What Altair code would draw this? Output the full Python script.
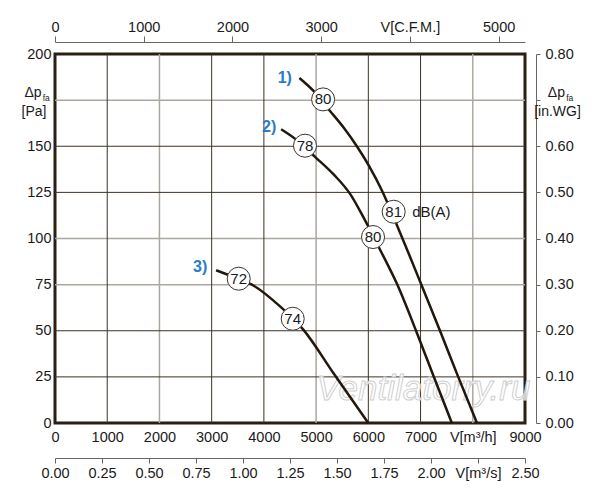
import pandas as pd
import altair as alt

## Curve data: V in m3/h, static pressure in Pa
c1_v = [4680, 4950, 5270, 5530, 5780, 6010, 6260, 6550, 6800, 7010, 7380, 7700, 8080]
c1_p = [187, 180, 169, 160, 150, 139.5, 126, 107, 90, 75.3, 49.5, 26.5, 0]
c2_v = [4330, 4600, 4990, 5340, 5660, 5910, 6220, 6550, 6930, 7250, 7600]
c2_p = [159.2, 154, 144, 134.6, 123.8, 111.3, 94.2, 75.3, 48.8, 25.3, 0]
c3_v = [3085, 3520, 3770, 4310, 4755, 5330, 6000]
c3_p = [82.8, 78, 75, 63.2, 50.6, 27.1, 0]

# noise level bubbles sitting on the curves, dB(A)
db_v = [5134, 6485, 4787, 6090, 3518, 4552]
db_p = [175.4, 114.5, 150.3, 100.8, 78.2, 56.5]
db_txt = ["80", "81", "78", "80", "72", "74"]

# curve numbers
tag_v = [4400, 4100, 2780]
tag_p = [187, 160.5, 84.5]
tag_txt = ["1)", "2)", "3)"]

# axis ticks in their own units
m3h_ticks = [0, 1000, 2000, 3000, 4000, 5000, 6000, 7000, 8000, 9000]
cfm_ticks = [0, 1000, 2000, 3000, 4000, 5000]
m3s_ticks = [0, 0.25, 0.5, 0.75, 1.0, 1.25, 1.5, 1.75, 2.0, 2.25, 2.5]
pa_ticks = [0, 25, 50, 75, 100, 125, 150, 175, 200]
inwg_ticks = [0, 0.1, 0.2, 0.3, 0.4, 0.5, 0.6, 0.7, 0.8]

# grid lines (the original mixes dark and light ones)
vgrid_dark = [1000, 3000, 4000, 6000, 7000]
vgrid_light = [2000, 5000, 8000]
hgrid_dark = [25, 50, 125, 150]
hgrid_light = [75, 100, 175]

M3H_PER_CFM = 1.699
M3H_PER_M3S = 3600
PA_PER_INWG = 250  # the chart lines 0.80 in.WG up with 200 Pa

FONT = "Liberation Sans"
INK = "#1a1a1a"
AXIS_GREY = "#6e665e"

xs = alt.Scale(domain=[0, 9000], nice=False, zero=False)
ys = alt.Scale(domain=[0, 200], nice=False, zero=False)


def xq(field="V", axis=None):
    return alt.X(f"{field}:Q", scale=xs, axis=axis)


def yq(field="P", axis=None):
    return alt.Y(f"{field}:Q", scale=ys, axis=axis)


## Grid
grid_v_light = alt.Chart(pd.DataFrame({"V": vgrid_light})).mark_rule(color="#aca79f", strokeWidth=1.5).encode(x=xq())
grid_h_light = alt.Chart(pd.DataFrame({"P": hgrid_light})).mark_rule(color="#aca79f", strokeWidth=1.5).encode(y=yq())
grid_v_dark = alt.Chart(pd.DataFrame({"V": vgrid_dark})).mark_rule(color="#3d3226", strokeWidth=1).encode(x=xq())
grid_h_dark = alt.Chart(pd.DataFrame({"P": hgrid_dark})).mark_rule(color="#3d3226", strokeWidth=1).encode(y=yq())

## Watermark
watermark = alt.Chart(pd.DataFrame({"V": [7056], "P": [18.6], "t": ["Ventilatorry.ru"]})).mark_text(
    font=FONT, fontSize=35, fontStyle="italic", fill="white", fillOpacity=0.8,
    stroke="#cfcfcf", strokeWidth=1, align="center", baseline="middle"
).encode(x=xq(), y=yq(), text="t:N")

## Curves
curves_df = pd.concat([
    pd.DataFrame({"V": c1_v, "P": c1_p, "curve": "1"}),
    pd.DataFrame({"V": c2_v, "P": c2_p, "curve": "2"}),
    pd.DataFrame({"V": c3_v, "P": c3_p, "curve": "3"}),
])
curves = alt.Chart(curves_df).mark_line(color="#22170c", strokeWidth=2.5, interpolate="monotone").encode(
    x=xq(), y=yq(), detail="curve:N"
)

## dB bubbles
db_df = pd.DataFrame({"V": db_v, "P": db_p, "t": db_txt})
bubbles = alt.Chart(db_df).mark_circle(size=530, color="white", opacity=1, stroke="#3a332c", strokeWidth=1).encode(
    x=xq(), y=yq()
)
bubble_txt = alt.Chart(db_df).mark_text(font=FONT, fontSize=15, color=INK, align="center", baseline="middle").encode(
    x=xq(), y=yq(), text="t:N"
)
dba = alt.Chart(pd.DataFrame({"V": [6840], "P": [114.5], "t": ["dB(A)"]})).mark_text(
    font=FONT, fontSize=15, color=INK, align="left", baseline="middle"
).encode(x=xq(), y=yq(), text="t:N")

tags = alt.Chart(pd.DataFrame({"V": tag_v, "P": tag_p, "t": tag_txt})).mark_text(
    font=FONT, fontSize=16, fontWeight="bold", color="#2a7cc6", align="center", baseline="middle"
).encode(x=xq(), y=yq(), text="t:N")

## Axis titles with subscript, next to the 175 Pa / 0.70 in.WG rows
dp_lbl = pd.DataFrame({"V": [-258, 9766], "P": [179, 179], "t": ["\u0394p", "\u0394p"]})
sub_lbl = pd.DataFrame({"V": [-235, 9790], "P": [176.2, 176.2], "t": ["fa", "fa"]})
unit_lbl = pd.DataFrame({"V": [-402, 9622], "P": [168.7, 168.7], "t": ["[Pa]", "[in.WG]"]})
titles_dp = alt.Chart(dp_lbl).mark_text(font=FONT, fontSize=14, color=INK, align="right", baseline="middle").encode(
    x=xq(), y=yq(), text="t:N"
)
titles_sub = alt.Chart(sub_lbl).mark_text(font=FONT, fontSize=8.5, color=INK, align="left", baseline="middle").encode(
    x=xq(), y=yq(), text="t:N"
)
titles_unit = alt.Chart(unit_lbl).mark_text(font=FONT, fontSize=14, color=INK, align="center", baseline="middle").encode(
    x=xq(), y=yq(), text="t:N"
)

## Axes (each carried by an invisible layer on the shared scales)
ax_bottom = alt.Chart(pd.DataFrame({"V": m3h_ticks})).mark_point(opacity=0).encode(
    x=xq(axis=alt.Axis(orient="bottom", values=m3h_ticks, title=None, domain=False, ticks=False, tickSize=0,
                       labelPadding=7, labelFlush=False, labelOverlap=False,
                       labelExpr="datum.value == 8000 ? 'V[m\u00b3/h]' : format(datum.value, 'd')"))
)
cfm_vals = [c * M3H_PER_CFM for c in cfm_ticks]
ax_top = alt.Chart(pd.DataFrame({"V": cfm_vals})).mark_point(opacity=0).encode(
    x=xq(axis=alt.Axis(orient="top", values=cfm_vals, title=None, offset=12, tickSize=6,
                       labelPadding=2, labelFlush=False, labelOverlap=False,
                       labelExpr="round(datum.value / 1.699) == 4000 ? 'V[C.F.M.]' : format(round(datum.value / 1.699), 'd')"))
)
m3s_vals = [s * M3H_PER_M3S for s in m3s_ticks]
ax_m3s = alt.Chart(pd.DataFrame({"V": m3s_vals})).mark_point(opacity=0).encode(
    x=xq(axis=alt.Axis(orient="bottom", values=m3s_vals, title=None, offset=35, tickSize=5,
                       labelPadding=3, labelFlush=False, labelOverlap=False,
                       labelExpr="round(datum.value) == 8100 ? 'V[m\u00b3/s]' : format(datum.value / 3600, '.2f')"))
)
ax_left = alt.Chart(pd.DataFrame({"P": pa_ticks})).mark_point(opacity=0).encode(
    y=yq(axis=alt.Axis(orient="left", values=pa_ticks, title=None, domain=False, ticks=False, tickSize=0,
                       labelPadding=4, labelFlush=False, labelOverlap=False,
                       labelExpr="datum.value == 175 ? '' : datum.label"))
)
inwg_vals = [w * PA_PER_INWG for w in inwg_ticks]
ax_right = alt.Chart(pd.DataFrame({"P": inwg_vals})).mark_point(opacity=0).encode(
    y=yq(axis=alt.Axis(orient="right", values=inwg_vals, title=None, offset=11, tickSize=4,
                       labelPadding=5, labelFlush=False, labelOverlap=False,
                       labelExpr="round(datum.value) == 175 ? '' : format(datum.value / 250, '.2f')"))
)

chart = alt.layer(
    grid_v_light, grid_h_light, grid_v_dark, grid_h_dark, watermark,
    curves, bubbles, bubble_txt, dba, tags, titles_dp, titles_sub, titles_unit,
    ax_bottom, ax_top, ax_m3s, ax_left, ax_right
).resolve_axis(
    x="independent", y="independent"
).properties(
    width=470, height=369,
    padding={"left": 47, "top": 46, "right": 67, "bottom": 69},
    autosize=alt.AutoSizeParams(type="none")
).configure_view(
    stroke="#2a1f14", strokeWidth=3
).configure_axis(
    labelFont=FONT, labelFontSize=14.5, labelColor=INK, domainColor=AXIS_GREY, tickColor=AXIS_GREY, grid=False
)

chart.save("out.html", embed_options={"renderer": "svg", "actions": False})
